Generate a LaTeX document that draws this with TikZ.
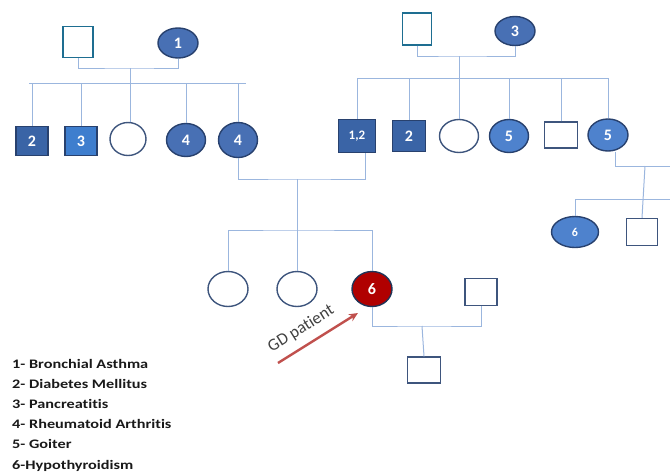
\documentclass[tikz,border=0pt]{standalone}
\usepackage{fontspec}
\setmainfont{Carlito}[Ligatures=NoCommon]
\usetikzlibrary{shapes.geometric,arrows.meta}
\definecolor{linkblue}{RGB}{155,182,222}
\definecolor{openedge}{RGB}{62,85,125}
\definecolor{tealedge}{RGB}{30,110,145}
\definecolor{darkfill}{RGB}{58,100,166}
\definecolor{lightsq}{RGB}{62,126,206}
\definecolor{ovalfill}{RGB}{72,112,180}
\definecolor{goiterfill}{RGB}{78,130,205}
\definecolor{darkedge}{RGB}{40,65,110}
\definecolor{gdred}{RGB}{176,0,0}
\definecolor{arrowred}{RGB}{192,80,77}
\tikzset{%
  person/.style   = {inner sep=0pt, line width=1.4pt, text=white,%
                     font=\bfseries\fontsize{16}{16}\selectfont},%
  male/.style     = {person, rectangle, minimum width=32pt, minimum height=29pt,%
                     draw=openedge, fill=white},%
  female/.style   = {person, ellipse, minimum width=39pt, minimum height=33pt,%
                     draw=openedge, fill=white},%
  founder/.style  = {male, draw=tealedge, minimum width=30pt, minimum height=31pt},%
  affm/.style     = {male, fill=darkfill, draw=darkedge},%
  afff/.style     = {female, fill=ovalfill, draw=darkedge},%
  link/.style     = {draw=linkblue, line width=1pt},%
  legend/.style   = {anchor=base west, inner sep=0pt, xscale=1.25, transform shape,%
                     font=\bfseries\fontsize{13}{13}\selectfont, text=black!90}%
}
\begin{document}
\begin{tikzpicture}[x=1pt,y=-1pt]
  \useasboundingbox (0,0) rectangle (670,472);
  % left family
  \node[founder] (lf) at (78,42) {};
  \node[afff, minimum width=40pt, minimum height=30pt] (lm) at (178,43) {1};
  \node[affm] (l2) at (32,141) {2};
  \node[affm, fill=lightsq] (l3) at (81,141) {3};
  \node[female, minimum width=36pt] (lw) at (128,139) {};
  \node[afff] (l4a) at (186,140) {4};
  \node[afff, minimum height=35pt] (l4b) at (238,140) {4};
  \coordinate (lc) at (130,68);
  \coordinate (ls1) at (29,83);
  \coordinate (ls2) at (246,83);
  \draw[link] (lf.south) |- (lc) -| (lm.south);
  \draw[link] (lc) -- (lc |- lw.north);
  \draw[link] (ls1) -- (ls2);
  \foreach \n in {l2,l3,l4a,l4b}
    \draw[link] (\n.north) -- (\n.north |- ls1);
  % right family
  \node[founder, minimum width=29pt, minimum height=32pt] (rf) at (417,29) {};
  \node[afff, minimum width=40pt, minimum height=29pt] (rm) at (515,31) {3};
  \node[affm, minimum width=37pt, minimum height=33pt,%
        font=\bfseries\fontsize{13}{13}\selectfont] (r12) at (357,136) {1,2};
  \node[affm, minimum width=33pt, minimum height=31pt] (r2) at (409,136) {2};
  \node[female] (rw) at (459,136) {};
  \node[afff, fill=goiterfill] (r5a) at (509,136) {5};
  \node[male, minimum width=33pt, minimum height=26pt] (rs) at (561,135) {};
  \node[afff, fill=goiterfill, minimum width=40pt, minimum height=32pt] (r5b) at (608,135) {5};
  \coordinate (rc) at (459,56);
  \coordinate (rs1) at (358,78);
  \coordinate (rs2) at (608,78);
  \draw[link] (rf.south) |- (rc) -| (rm.south);
  \draw[link] (rc) -- (rc |- rw.north);
  \draw[link] (rs1) -- (rs2);
  \foreach \n in {r12,r2,r5a,rs,r5b}
    \draw[link] (\n.north) -- (\n.north |- rs1);
  % cousins at the right edge
  \node[afff, fill=goiterfill, minimum width=47pt, minimum height=31pt,%
        font=\bfseries\fontsize{12}{12}\selectfont] (e6) at (575,232) {6};
  \node[male, minimum width=31pt, minimum height=27pt] (es) at (642,232) {};
  \coordinate (ec) at (645,166);
  \coordinate (ee1) at (670,166);
  \coordinate (ee2) at (670,199);
  \draw[link] ([xshift=7pt]r5b.south) |- (ee1);
  \draw[link] (ec) -- (es.north);
  \draw[link] (e6.north) |- (ee2);
  % middle generation
  \node[female, minimum width=40pt, minimum height=35pt] (m1) at (228,289) {};
  \node[female, minimum width=40pt, minimum height=35pt] (m2) at (297,289) {};
  \node[female, fill=gdred, draw=darkedge!80!black, minimum width=40pt,%
        minimum height=35pt] (p6) at (372,289) {6};
  \coordinate (mc) at (297,179);
  \coordinate (ms) at (297,230);
  \draw[link] (l4b.south) |- (mc) -| ([xshift=8pt]r12.south);
  \draw[link] (mc) -- (m2.north);
  \draw[link] (m1.north) |- (ms) -| (p6.north);
  % patient and her family
  \node[male, minimum width=32pt, minimum height=27pt] (ps) at (481,292) {};
  \node[male, minimum width=33pt, minimum height=26pt] (pk) at (424,370) {};
  \coordinate (pc) at (422,326);
  \draw[link] (p6.south) |- (pc) -| (ps.south);
  \draw[link] (pc) -- (pk.north);
  % proband arrow
  \coordinate (pt) at (278,363);
  \coordinate (ph) at (358,313);
  \draw[arrowred, line width=2.4pt, -{Stealth[length=9pt,width=8pt]}] (pt) --
    node[sloped, pos=0.4, above=5pt, text=black!75, font=\fontsize{17}{17}\selectfont] (gd) {GD patient} (ph);
  % legend
  \foreach \t [count=\i] in {1- Bronchial Asthma, 2- Diabetes Mellitus, 3- Pancreatitis,%
      4- Rheumatoid Arthritis, 5- Goiter, 6-Hypothyroidism}
    \node[legend] (leg\i) at (12,368+20.2*\i-20.2) {\t};
\end{tikzpicture}
\end{document}
